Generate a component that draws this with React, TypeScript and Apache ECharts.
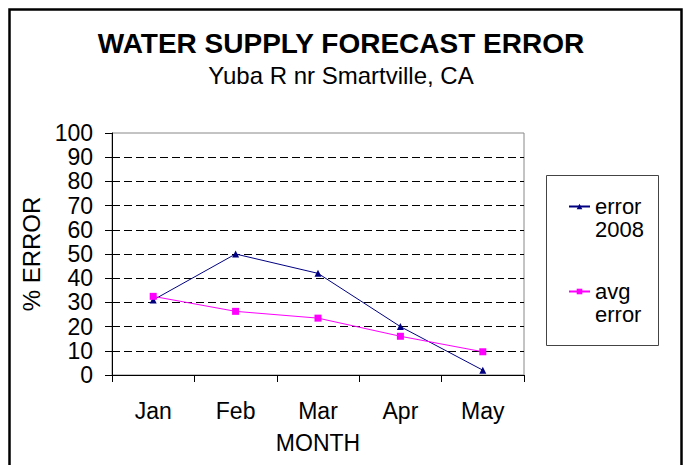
import React, { useEffect, useRef } from "react";
import * as echarts from "echarts";

const months = ["Jan", "Feb", "Mar", "Apr", "May"];
const error2008 = [31, 50, 42, 20, 2];
const avgError = [32.5, 26.3, 23.5, 16, 9.6];
const seriesNames = ["error 2008", "avg error"];
const titleText = "WATER SUPPLY FORECAST ERROR";
const subtitleText = "Yuba R nr Smartville, CA";

export default function App() {
  const ref = useRef<HTMLDivElement>(null);
  useEffect(() => {
    if (!ref.current) return;
    const chart = echarts.init(ref.current, null, { renderer: "svg" });
    const font = "Liberation Sans, Arial, sans-serif";
    chart.setOption({
      animation: false,
      backgroundColor: "#fff",
      textStyle: { fontFamily: font },
      title: {
        text: titleText,
        subtext: subtitleText,
        left: 336,
        textAlign: "center",
        top: 24,
        itemGap: 6,
        textStyle: { fontFamily: font, fontSize: 28, fontWeight: "bold", color: "#000" },
        subtextStyle: { fontFamily: font, fontSize: 24, color: "#000" },
      },
      graphic: [
        {
          type: "rect",
          shape: { x: 9.5, y: 9.5, width: 672, height: 480 },
          style: { fill: "none", stroke: "#000", lineWidth: 2.5 },
          silent: true,
        },
        {
          type: "rect",
          shape: { x: 546.5, y: 175.5, width: 112, height: 170 },
          style: { fill: "none", stroke: "#444", lineWidth: 1 },
          silent: true,
        },
      ],
      legend: {
        orient: "vertical",
        left: 568,
        top: 172,
        padding: 0,
        itemWidth: 21,
        itemHeight: 7,
        itemGap: 16,
        data: seriesNames,
        formatter: (name: string) => " \n" + name.replace(" ", "\n"),
        textStyle: { fontFamily: font, fontSize: 22, color: "#000", lineHeight: 23 },
      },
      grid: {
        left: 112,
        right: 165,
        top: 133,
        bottom: 90,
        show: true,
        borderColor: "#888",
        borderWidth: 1,
        backgroundColor: "transparent",
      },
      xAxis: {
        type: "category",
        data: months,
        boundaryGap: true,
        name: "MONTH",
        nameLocation: "middle",
        nameGap: 56,
        nameTextStyle: { fontFamily: font, fontSize: 23, color: "#000" },
        axisLine: { lineStyle: { color: "#000", width: 1 } },
        axisTick: { show: true, inside: false, length: 7, alignWithLabel: false, lineStyle: { color: "#000" } },
        axisLabel: { fontFamily: font, fontSize: 23, color: "#000", margin: 24 },
        splitLine: { show: false },
      },
      yAxis: {
        type: "value",
        min: 0,
        max: 100,
        interval: 10,
        name: "% ERROR",
        nameLocation: "middle",
        nameGap: 66,
        nameRotate: 90,
        nameTextStyle: { fontFamily: font, fontSize: 24, color: "#000" },
        axisLine: { show: true, lineStyle: { color: "#000", width: 1 } },
        axisTick: { show: true, inside: false, length: 7, lineStyle: { color: "#000" } },
        axisLabel: { fontFamily: font, fontSize: 23, color: "#000", margin: 19 },
        splitLine: {
          show: true,
          showMinLine: false,
          showMaxLine: false,
          lineStyle: { color: "#000", type: [8, 4], width: 1 },
        },
      },
      series: [
        {
          name: seriesNames[0],
          type: "line",
          data: error2008,
          color: "#000080",
          symbol: "triangle",
          symbolSize: 7,
          lineStyle: { width: 1, color: "#000080" },
          itemStyle: { color: "#000080" },
        },
        {
          name: seriesNames[1],
          type: "line",
          data: avgError,
          color: "#FF00FF",
          symbol: "rect",
          symbolSize: 7,
          lineStyle: { width: 1, color: "#FF00FF" },
          itemStyle: { color: "#FF00FF" },
        },
      ],
    });
    return () => chart.dispose();
  }, []);
  return (
    <div
      ref={ref}
      style={{ position: "fixed", left: 0, top: 0, width: 689, height: 465 }}
    />
  );
}
